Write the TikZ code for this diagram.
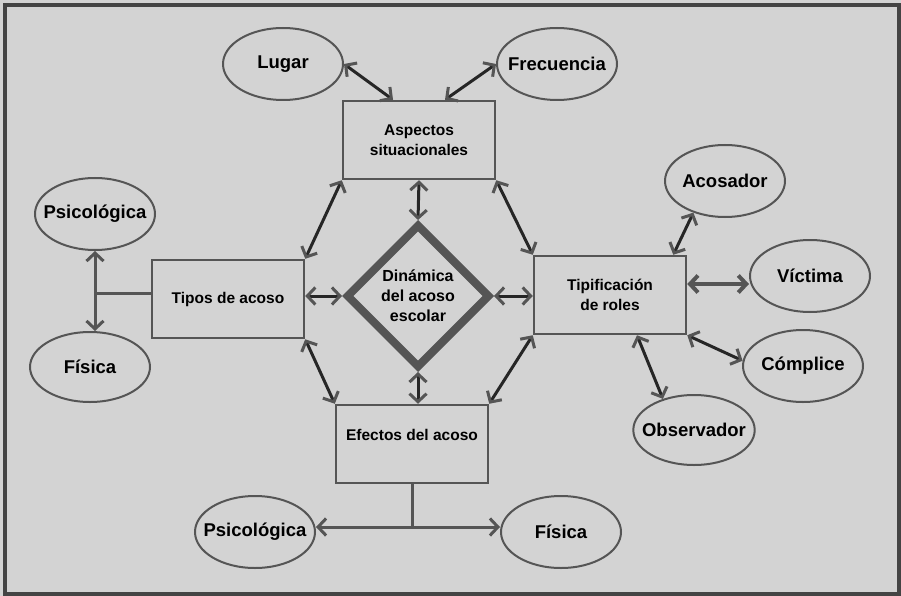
\documentclass[tikz,border=0pt]{standalone}
\usepackage{fontspec}
\setmainfont{Liberation Sans}
\usetikzlibrary{arrows.meta,shapes.geometric}
\definecolor{fondo}{HTML}{D3D3D3}
\definecolor{marco}{HTML}{444444}
\definecolor{borde}{HTML}{555555}
\definecolor{flecha}{HTML}{262626}
\begin{document}
\begin{tikzpicture}[x=1pt,y=-1pt,
  caja/.style={draw=borde,line width=2.5pt,rectangle,minimum width=152pt,minimum height=78pt,inner sep=0pt,align=center,font=\fontsize{15.5}{20}\selectfont\bfseries},
  elipse/.style={draw=borde,line width=2pt,ellipse,minimum width=120pt,minimum height=72pt,inner xsep=-9pt,inner ysep=0pt,font=\fontsize{18.5}{22}\selectfont\bfseries},
  doble/.style={draw=flecha,line width=3pt,{Straight Barb[length=8pt,width=17pt,color=borde]}-{Straight Barb[length=8pt,width=17pt,color=borde]}},
  linea/.style={draw=borde,line width=3pt}]
\useasboundingbox (0,0) rectangle (901,596);
\fill[fondo] (0,0) rectangle (901,596);
\draw[marco, line width=4.5pt] (5,5) rectangle (899,594);
\node[caja] (aspectos) at (419,140) {Aspectos\\situacionales};
\node[caja] (tipos) at (228,299) {Tipos de acoso};
\node[caja] (tipificacion) at (610,295) {Tipificación\\de roles};
\node[caja, text height=35pt, text depth=43pt] (efectos) at (412,444) {Efectos del acoso};
\node[diamond, draw=borde, line width=8pt, minimum width=144pt, minimum height=144pt, inner sep=0pt, align=center, font=\fontsize{16}{20}\selectfont\bfseries] (dinamica) at (418,296) {Dinámica\\del acoso\\escolar};
\node[elipse] (lugar) at (283,64) {Lugar};
\node[elipse] (frecuencia) at (557,64) {Frecuencia};
\node[elipse] (acosador) at (725,181) {Acosador};
\node[elipse] (victima) at (810,276) {Víctima};
\node[elipse] (complice) at (803,366) {Cómplice};
\node[elipse, minimum width=118pt, minimum height=70pt] (observador) at (694,430) {Observador};
\node[elipse] (psico1) at (95,214) {Psicológica};
\node[elipse, minimum height=70pt] (fisica1) at (90,367) {Física};
\node[elipse] (psico2) at (255,532) {Psicológica};
\node[elipse] (fisica2) at (561,532) {Física};
\coordinate (jb) at (412,527);
\coordinate (jv) at ([yshift=11]tipificacion.east);
\draw[doble] (lugar.east) -- ([xshift=-26]aspectos.north);
\draw[doble] (frecuencia.west) -- ([xshift=26]aspectos.north);
\draw[doble] (aspectos.south) -- (dinamica.north);
\draw[doble] (aspectos.south west) -- (tipos.north east);
\draw[doble] (aspectos.south east) -- (tipificacion.north west);
\draw[doble] (dinamica.west) -- (tipos.east |- dinamica.west);
\draw[doble] (dinamica.east) -- (tipificacion.west |- dinamica.east);
\draw[doble] (dinamica.south) -- (dinamica.south |- efectos.north);
\draw[doble] (tipos.south east) -- (efectos.north west);
\draw[doble] (tipificacion.south west) -- (efectos.north east);
\draw[doble] ([xshift=-14]tipificacion.north east) -- (acosador.225);
\draw[doble, draw=borde, line width=4pt] (jv) -- (victima.west |- jv);
\draw[doble] (tipificacion.south east) -- (complice.175);
\draw[doble] ([xshift=27]tipificacion.south) -- (observador.135);
\draw[linea] ([yshift=6]tipos.west) -- ([yshift=6]tipos.west -| psico1.south);
\draw[doble, draw=borde] (psico1.south) -- (psico1.south |- fisica1.north);
\draw[linea] (efectos.south) -- (jb);
\draw[doble, draw=borde] (psico2.east |- jb) -- (fisica2.west |- jb);
\end{tikzpicture}
\end{document}
